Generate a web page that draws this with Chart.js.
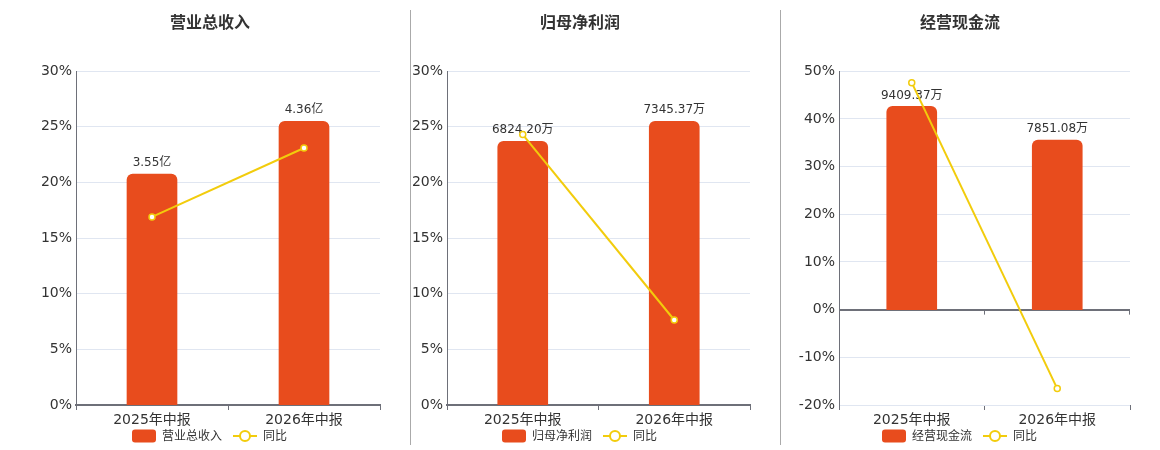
<!DOCTYPE html>
<html>
<head>
<meta charset="utf-8">
<script src="https://cdn.jsdelivr.net/npm/chart.js@4.4.0/dist/chart.umd.min.js"></script>
<style>
  body { margin: 0; background: #fff; width: 1160px; height: 450px; overflow: hidden; position: relative; }
  .panel { position: absolute; top: 0; height: 450px; }
  .sep { position: absolute; top: 10px; width: 1px; height: 435px; background: #aaa; }
</style>
</head>
<body>
<div class="sep" style="left:410px"></div>
<div class="sep" style="left:780px"></div>
<div class="panel" style="left:40px;width:360px"><canvas id="c1"></canvas></div>
<div class="panel" style="left:410px;width:350px"><canvas id="c2"></canvas></div>
<div class="panel" style="left:790px;width:350px"><canvas id="c3"></canvas></div>
<script>
// data
const categories = ['2025年中报', '2026年中报'];

const revenueValues = [3.55, 4.36];      // 亿
const revenueYoy = [16.9, 23.1];         // %
const profitValues = [6824.20, 7345.37]; // 万
const profitYoy = [24.3, 7.64];
const cashValues = [9409.37, 7851.08];   // 万
const cashYoy = [47.6, -16.56];

const BAR = '#e84c1d';
const LINE = '#f2cc0c';
const AXIS = '#6e7079';
const GRID = '#e0e6f1';
const TEXT = '#333';
const FONT = '"DejaVu Sans", "Noto Sans CJK SC", sans-serif';

Chart.defaults.font.family = FONT;
Chart.defaults.color = TEXT;

// value text above bars, drawn before the line so the line goes over it
const barLabels = {
  id: 'barLabels',
  afterDatasetDraw(chart, args, opts) {
    if (args.index !== 0) return;
    const ctx = chart.ctx;
    ctx.save();
    ctx.font = '12px ' + FONT;
    ctx.fillStyle = TEXT;
    ctx.textAlign = 'center';
    ctx.textBaseline = 'bottom';
    args.meta.data.forEach((bar, i) => {
      const v = chart.data.datasets[0].data[i];
      ctx.fillText(v.toFixed(2) + opts.unit, bar.x, bar.y - 5);
    });
    ctx.restore();
  }
};

// tick marks on the zero line when the x axis sits inside the plot
const zeroTicks = {
  id: 'zeroTicks',
  afterDraw(chart, args, opts) {
    if (!opts.on) return;
    const x = chart.scales.x, y = chart.scales.y;
    const y0 = y.getPixelForValue(0);
    const step = x.width / categories.length;
    const ctx = chart.ctx;
    ctx.save();
    ctx.strokeStyle = AXIS;
    ctx.lineWidth = 1;
    for (let i = 1; i <= categories.length; i++) {
      const px = Math.round(x.left + step * i) - 0.5;
      ctx.beginPath(); ctx.moveTo(px, y0); ctx.lineTo(px, y0 + 5); ctx.stroke();
    }
    ctx.restore();
  }
};

// legend under the axis labels, centred under the title
const bottomLegend = {
  id: 'bottomLegend',
  afterDraw(chart, args, opts) {
    const ctx = chart.ctx;
    const names = chart.data.datasets.map(d => d.label);
    const tb = chart.titleBlock;
    const cx = (tb.left + tb.right) / 2;
    ctx.save();
    ctx.font = '12px ' + FONT;
    const w0 = ctx.measureText(names[0]).width;
    const w1 = ctx.measureText(names[1]).width;
    const total = 24 + 6 + w0 + 11 + 24 + 6 + w1;
    let x = Math.round(cx - total / 2);
    const y = opts.y;
    ctx.fillStyle = BAR;
    ctx.beginPath(); ctx.roundRect(x, y - 6.5, 24, 13, 3); ctx.fill();
    x += 30;
    ctx.fillStyle = TEXT;
    ctx.textBaseline = 'middle';
    ctx.fillText(names[0], x, y + 1);
    x += w0 + 11;
    ctx.strokeStyle = LINE;
    ctx.lineWidth = 2;
    ctx.beginPath(); ctx.moveTo(x, y); ctx.lineTo(x + 24, y); ctx.stroke();
    ctx.beginPath(); ctx.arc(x + 12, y, 5, 0, Math.PI * 2);
    ctx.fillStyle = '#fff'; ctx.fill(); ctx.stroke();
    x += 30;
    ctx.fillStyle = TEXT;
    ctx.fillText(names[1], x, y + 1);
    ctx.restore();
  }
};

function makeChart(id, cfg) {
  new Chart(document.getElementById(id), {
    data: {
      labels: categories,
      datasets: [
        {
          type: 'bar',
          label: cfg.name,
          data: cfg.bars,
          backgroundColor: BAR,
          borderRadius: { topLeft: 6, topRight: 6 },
          borderSkipped: 'start',
          barThickness: 50,
          yAxisID: 'yBar',
          order: 2
        },
        {
          type: 'line',
          label: '同比',
          data: cfg.yoy,
          borderColor: LINE,
          borderWidth: 2,
          pointRadius: 3,
          pointBorderWidth: 1.5,
          pointBackgroundColor: '#fff',
          pointBorderColor: LINE,
          yAxisID: 'y',
          order: 1
        }
      ]
    },
    options: {
      responsive: true,
      maintainAspectRatio: false,
      animation: false,
      layout: { padding: { left: 0, right: cfg.padRight, top: 0, bottom: 21 } },
      plugins: {
        tooltip: { enabled: false },
        legend: { display: false },
        title: {
          display: true,
          text: cfg.title,
          color: TEXT,
          font: { size: 16, weight: 'bold' },
          padding: { top: 14, bottom: 38 }
        },
        barLabels: { unit: cfg.unit },
        zeroTicks: { on: cfg.zeroLine },
        bottomLegend: { y: 436 }
      },
      scales: {
        x: {
          offset: true,
          grid: { display: true, offset: true, drawOnChartArea: false, drawTicks: true, tickLength: 5, color: AXIS },
          border: { display: !cfg.zeroLine, color: AXIS, width: 2 },
          ticks: { color: TEXT, font: { size: 14 }, padding: 2 },
          afterFit: s => { s.height = 24; }
        },
        y: {
          min: cfg.yMin,
          max: cfg.yMax,
          ticks: { stepSize: cfg.yStep, color: TEXT, font: { size: 14 }, padding: 4, callback: v => v + '%' },
          grid: {
            drawTicks: false,
            color: c => (cfg.zeroLine && c.tick && c.tick.value === 0) ? AXIS : GRID,
            lineWidth: c => (cfg.zeroLine && c.tick && c.tick.value === 0) ? 2 : 1
          },
          border: { display: true, color: AXIS, width: 1 },
          afterFit: s => { s.width = cfg.axisWidth; }
        },
        yBar: {
          display: false,
          min: cfg.barMin,
          max: cfg.barMax
        }
      }
    },
    plugins: [barLabels, zeroTicks, bottomLegend]
  });
}

makeChart('c1', {
  title: '营业总收入', name: '营业总收入', unit: '亿',
  bars: revenueValues, yoy: revenueYoy,
  yMin: 0, yMax: 30, yStep: 5, barMin: 0, barMax: 5.13,
  axisWidth: 36, padRight: 20, zeroLine: false
});
makeChart('c2', {
  title: '归母净利润', name: '归母净利润', unit: '万',
  bars: profitValues, yoy: profitYoy,
  yMin: 0, yMax: 30, yStep: 5, barMin: 0, barMax: 8640,
  axisWidth: 37, padRight: 10, zeroLine: false
});
makeChart('c3', {
  title: '经营现金流', name: '经营现金流', unit: '万',
  bars: cashValues, yoy: cashYoy,
  yMin: -20, yMax: 50, yStep: 10, barMin: -4416, barMax: 11040,
  axisWidth: 49, padRight: 10, zeroLine: true
});
</script>
</body>
</html>
